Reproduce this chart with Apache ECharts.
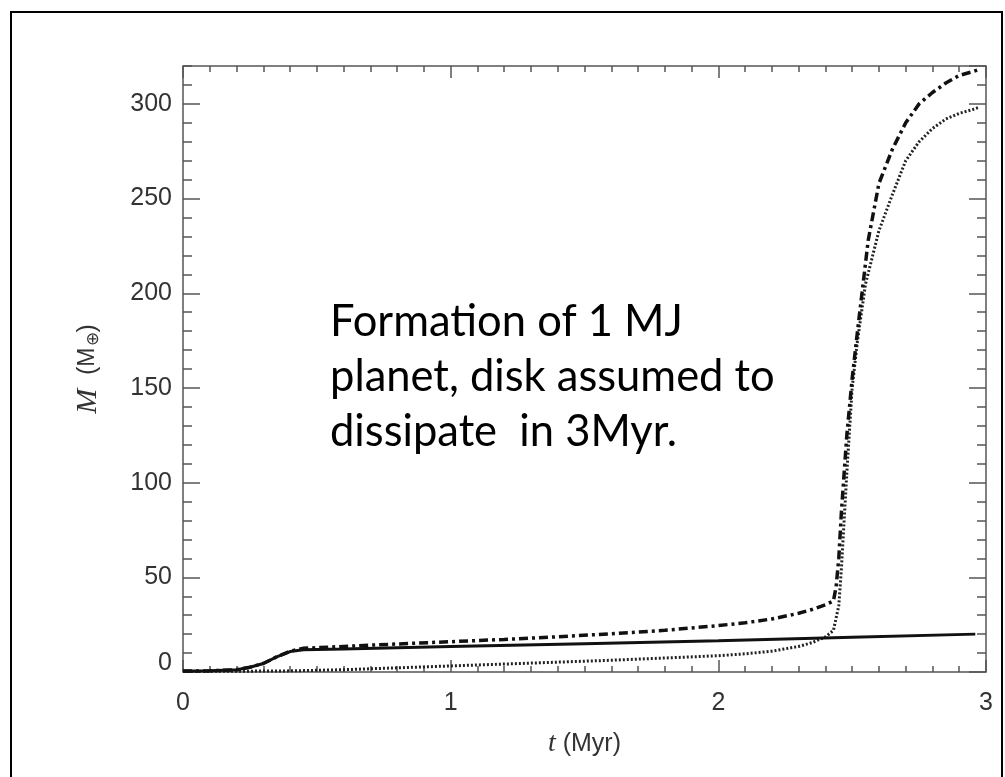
<!DOCTYPE html>
<html>
<head>
<meta charset="utf-8">
<script src="https://cdn.jsdelivr.net/npm/echarts@6/dist/echarts.min.js"></script>
<style>
    html, body {margin: 0; padding: 0; background: #fff;}
    #chart {width: 1005px; height: 777px;}
</style>
</head>
<body>
<div id="chart"></div>
<script>
// values (t in Myr, M in Earth masses)
const tSolid = [0, 0.1, 0.2, 0.25, 0.3, 0.35, 0.4, 0.45, 0.6, 0.8, 1.0, 1.5, 2.0, 2.5, 2.96];
const mSolid = [0.5, 0.6, 1.2, 2.5, 4.5, 8, 10.8, 11.8, 12.2, 12.8, 13.4, 14.9, 16.5, 18.3, 20];

const tDashDot = [0, 0.1, 0.2, 0.25, 0.3, 0.35, 0.4, 0.45, 0.6, 0.8, 1.0, 1.2, 1.4, 1.6, 1.8, 2.0, 2.1, 2.2, 2.3, 2.35, 2.4, 2.43,
    2.44, 2.45, 2.46, 2.47, 2.48, 2.5, 2.52, 2.56, 2.6, 2.65, 2.7, 2.75, 2.8, 2.85, 2.9, 2.95, 2.97];
const mDashDot = [0.5, 0.6, 1.2, 2.5, 4.5, 8, 11, 12.5, 13.5, 14.8, 16, 17.2, 18.6, 20.2, 22, 24.5, 26, 28, 31, 33, 35.5, 37.5,
    45, 60, 85, 105, 125, 155, 180, 228, 258, 276, 290, 300, 306, 311, 315, 317, 318];

const tDotted = [0, 0.2, 0.4, 0.6, 0.8, 1.0, 1.2, 1.4, 1.6, 1.8, 2.0, 2.1, 2.2, 2.3, 2.35, 2.4, 2.43,
    2.45, 2.46, 2.47, 2.48, 2.5, 2.52, 2.55, 2.6, 2.65, 2.7, 2.75, 2.8, 2.85, 2.9, 2.95, 2.97];
const mDotted = [0.3, 0.4, 0.6, 1.2, 2.2, 3.2, 4.2, 5.2, 6.2, 7.4, 8.6, 9.6, 11, 13.5, 15.5, 18.5, 22,
    35, 55, 80, 105, 150, 175, 205, 233, 252, 270, 280, 287, 292, 295, 297, 298];

const xTickLabels = [0, 1, 2, 3];
const yTickLabels = [0, 50, 100, 150, 200, 250, 300];

const axisColor = '#555';
const textColor = '#333';
const labelFont = 'Liberation Sans';

const pairs = (xs, ys) => xs.map((x, i) => [x, ys[i]]);

const chart = echarts.init(document.getElementById('chart'));

const tickStyle = {color: axisColor, width: 1.5};

function xAxisDef(pos, showLabel) {
    return {
        type: 'value',
        position: pos,
        min: xTickLabels[0],
        max: xTickLabels[xTickLabels.length - 1],
        interval: 1,
        axisLine: {show: false, onZero: false},
        axisTick: {show: true, inside: true, length: 12, lineStyle: tickStyle},
        minorTick: {show: true, splitNumber: 10, length: 6, lineStyle: tickStyle},
        splitLine: {show: false},
        minorSplitLine: {show: false},
        axisLabel: {
            show: showLabel, margin: 19, fontSize: 25, color: textColor, fontFamily: labelFont,
        },
        name: showLabel ? '{i|t} (Myr)' : '',
        nameLocation: 'middle',
        nameGap: 58,
        nameTextStyle: {
            fontSize: 25, color: textColor, fontFamily: labelFont,
            rich: {i: {fontStyle: 'italic', fontFamily: 'Liberation Serif', fontSize: 28, color: textColor}},
        },
    };
}

function yAxisDef(pos, step, len, showLabel) {
    return {
        type: 'value',
        position: pos,
        min: 0,
        max: 320,
        interval: step,
        axisLine: {show: false, onZero: false},
        axisTick: {show: true, inside: true, length: len, lineStyle: tickStyle},
        splitLine: {show: false},
        axisLabel: {
            show: showLabel, margin: 11, fontSize: 25, color: textColor, fontFamily: labelFont,
            showMaxLabel: false,
            formatter: (v) => (v === 0 ? '{z|0}' : (yTickLabels.indexOf(v) >= 0 ? String(v) : '')),
            rich: {z: {fontSize: 25, color: textColor, fontFamily: labelFont, padding: [0, 0, 18, 0]}},
        },
        name: showLabel ? '{i|M}  ({m|M}{s|⊕})' : '',
        nameLocation: 'middle',
        nameGap: 80,
        nameTextStyle: {
            fontSize: 25, color: textColor, fontFamily: labelFont,
            rich: {
                i: {fontStyle: 'italic', fontFamily: 'Liberation Serif', fontSize: 30, color: textColor},
                m: {fontSize: 23, color: textColor, fontFamily: labelFont},
                s: {fontSize: 17, color: textColor, fontFamily: labelFont, padding: [10, 0, 0, 1]},
            },
        },
    };
}

const option = {
    animation: false,
    backgroundColor: '#fff',
    grid: {
        left: 183, right: 19, top: 66, bottom: 105,
        show: true, borderColor: axisColor, borderWidth: 1.5,
    },
    xAxis: [xAxisDef('bottom', true), xAxisDef('top', false)],
    yAxis: [
        yAxisDef('left', 50, 17, true),
        yAxisDef('left', 10, 9, false),
        yAxisDef('right', 50, 17, false),
        yAxisDef('right', 10, 9, false),
    ],
    series: [
        {
            name: 'dotted', type: 'line', showSymbol: false, z: 3,
            data: pairs(tDotted, mDotted),
            lineStyle: {color: '#222', width: 3, type: [2, 2]},
        },
        {
            name: 'dashdot', type: 'line', showSymbol: false, z: 4,
            data: pairs(tDashDot, mDashDot),
            lineStyle: {color: '#111', width: 3.5, type: [9, 4, 3, 4]},
        },
        {
            name: 'solid', type: 'line', showSymbol: false, z: 5,
            data: pairs(tSolid, mSolid),
            lineStyle: {color: '#111', width: 3},
        },
    ],
    graphic: [
        {
            type: 'rect', z: -1,
            shape: {x: 11, y: 12, width: 991, height: 770},
            style: {fill: 'none', stroke: '#000', lineWidth: 2},
        },
        {
            type: 'text', left: 330, top: 294,
            style: {
                text: 'Formation of 1 MJ\nplanet, disk assumed to\ndissipate  in 3Myr.',
                fontSize: 43.5, fontFamily: 'Lato', lineHeight: 55, fill: '#000',
            },
        },
    ],
};

chart.setOption(option);
</script>
</body>
</html>
